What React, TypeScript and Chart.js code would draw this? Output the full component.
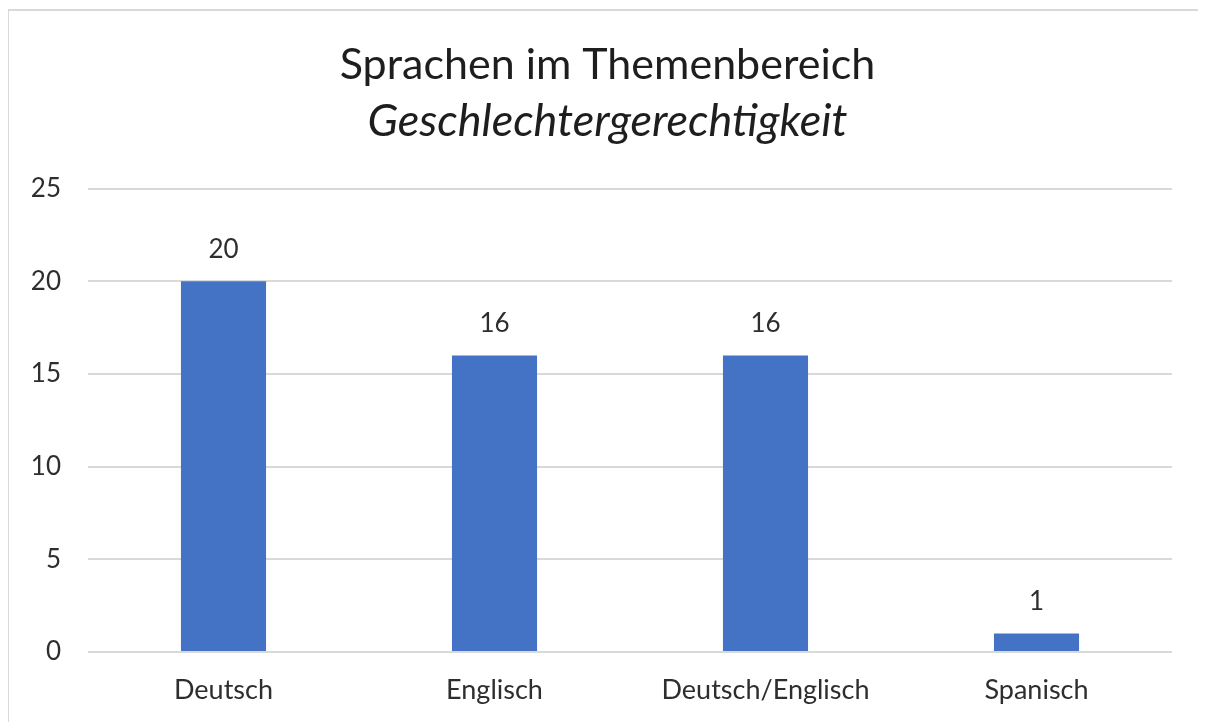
import React, { useEffect, useRef } from "react";
import { Chart, registerables } from "chart.js";

Chart.register(...registerables);

const titleLine1 = "Sprachen im Themenbereich";
const titleLine2 = "Geschlechtergerechtigkeit";
const categories = ["Deutsch", "Englisch", "Deutsch/Englisch", "Spanisch"];
const counts = [20, 16, 16, 1];
const yMin = 0;
const yMax = 25;
const yStep = 5;

const FONT = "Lato, 'Open Sans', sans-serif";
const BAR_COLOR = "#4472C4";
const GRID_COLOR = "#d9d9d9";
const TEXT_COLOR = "#2e2e2e";

const valueLabels = {
  id: "valueLabels",
  afterDatasetsDraw(chart: any) {
    const ctx = chart.ctx;
    const meta = chart.getDatasetMeta(0);
    ctx.save();
    ctx.font = `26px ${FONT}`;
    ctx.fillStyle = TEXT_COLOR;
    ctx.textAlign = "center";
    ctx.textBaseline = "alphabetic";
    meta.data.forEach((bar: any, i: number) => {
      const v = chart.data.datasets[0].data[i];
      ctx.fillText(String(v), bar.x, bar.y - 23);
    });
    ctx.restore();
  },
};

export default function App() {
  const canvasRef = useRef<HTMLCanvasElement | null>(null);

  useEffect(() => {
    if (!canvasRef.current) return;
    const chart = new Chart(canvasRef.current, {
      type: "bar",
      data: {
        labels: categories,
        datasets: [
          {
            data: counts,
            backgroundColor: BAR_COLOR,
            borderWidth: 0,
            categoryPercentage: 1,
            barPercentage: 0.314,
          },
        ],
      },
      options: {
        animation: false,
        responsive: false,
        maintainAspectRatio: false,
        layout: { padding: { left: 17, right: 17, top: 0, bottom: 0 } },
        plugins: {
          legend: { display: false },
          tooltip: { enabled: false },
          title: {
            display: true,
            text: titleLine1,
            color: "#1e1e1e",
            font: { family: FONT, size: 43, weight: "normal" },
            padding: { top: 28, bottom: 2 },
          },
          subtitle: {
            display: true,
            text: titleLine2,
            color: "#1e1e1e",
            font: { family: FONT, size: 45, style: "italic", weight: "normal" },
            padding: { top: 2, bottom: 40 },
          },
        },
        scales: {
          x: {
            grid: { display: false, drawTicks: false },
            border: { display: false },
            ticks: {
              color: TEXT_COLOR,
              font: { family: FONT, size: 27 },
              padding: 22,
              maxRotation: 0,
              autoSkip: false,
            },
            afterFit(scale: any) {
              scale.height = 70;
            },
          },
          y: {
            min: yMin,
            max: yMax,
            grid: { color: GRID_COLOR, lineWidth: 2, drawTicks: false },
            border: { display: false },
            ticks: {
              stepSize: yStep,
              color: TEXT_COLOR,
              font: { family: FONT, size: 26 },
              padding: 27,
            },
            afterFit(scale: any) {
              scale.width = 62;
            },
          },
          ySpacer: {
            position: "right",
            min: yMin,
            max: yMax,
            grid: { display: false, drawTicks: false },
            border: { display: false },
            ticks: { display: false },
            afterFit(scale: any) {
              scale.width = 17;
            },
          },
        },
      },
      plugins: [valueLabels],
    });
    return () => chart.destroy();
  }, []);

  return (
    <div
      style={{
        position: "relative",
        top: 1,
        left: -1,
        width: 1199,
        height: 713,
        borderLeft: "2px solid #d9d9d9",
        borderTop: "2px solid #d9d9d9",
        overflow: "hidden",
        background: "#ffffff",
      }}
    >
      <canvas ref={canvasRef} width={1197} height={711} style={{ display: "block" }} />
    </div>
  );
}
